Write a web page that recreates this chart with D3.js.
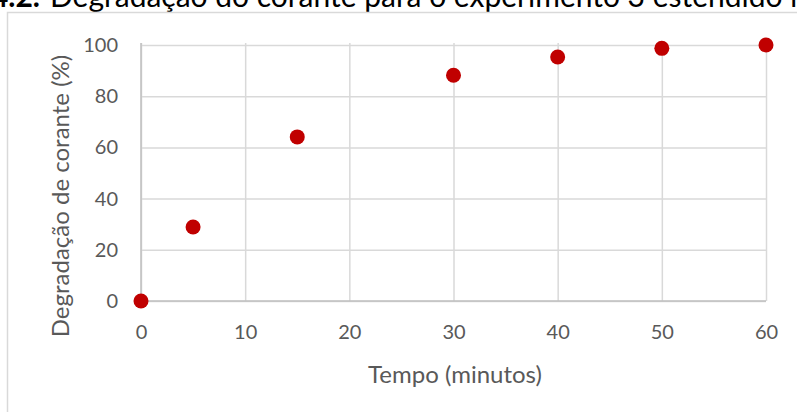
<!DOCTYPE html>
<html>
<head>
<meta charset="utf-8">
<script src="https://cdn.jsdelivr.net/npm/d3@7"></script>
<style>
  html, body { margin: 0; padding: 0; background: #fff; overflow: hidden; }
  svg { display: block; }
  text { font-family: Lato, "Open Sans", sans-serif; }
</style>
</head>
<body>
<svg id="chart" width="797" height="412"></svg>
<script>
// Dye degradation over time (experiment 3, extended)
const tempo = [0, 5, 15, 30, 40, 50, 60];          // minutes
const degradacao = [0, 28.9, 64.1, 88.2, 95.3, 98.7, 100]; // %
const xTicks = [0, 10, 20, 30, 40, 50, 60];
const yTicks = [0, 20, 40, 60, 80, 100];

const captionBold = "Figura 4.2.";
const captionText = "Degradação do corante para o experimento 3 estendido no tempo";
const xTitle = "Tempo (minutos)";
const yTitle = "Degradação de corante (%)";

const svg = d3.select("#chart");
const W = 797, H = 412;

const plot = { left: 141, right: 766, top: 45, bottom: 301 };

const x = d3.scaleLinear().domain([0, 60]).range([plot.left, plot.right]);
const y = d3.scaleLinear().domain([0, 100]).range([plot.bottom, plot.top]);

const textColor = "#595959";
const gridColor = "#d9d9d9";
const axisColor = "#bfbfbf";
const pointColor = "#c00000";

// caption above the chart frame
svg.append("text")
  .attr("x", 40).attr("y", 7)
  .attr("text-anchor", "end")
  .attr("font-size", 30)
  .attr("font-weight", "bold")
  .attr("fill", "#000")
  .text(captionBold);
svg.append("text")
  .attr("x", 50).attr("y", 7)
  .attr("font-size", 30)
  .attr("fill", "#000")
  .text(captionText);

// chart frame
svg.append("rect")
  .attr("x", 7.5).attr("y", 12.5)
  .attr("width", W + 20).attr("height", H + 20)
  .attr("fill", "#fff")
  .attr("stroke", gridColor)
  .attr("stroke-width", 1.5);

// horizontal gridlines
svg.append("g")
  .attr("transform", `translate(${plot.left},0)`)
  .call(d3.axisLeft(y).tickValues(yTicks).tickSize(-(plot.right - plot.left)).tickFormat(""))
  .call(g => g.select(".domain").remove())
  .call(g => g.selectAll("line").attr("stroke", gridColor).attr("stroke-width", 1.5));

// vertical gridlines
svg.append("g")
  .attr("transform", `translate(0,${plot.bottom})`)
  .call(d3.axisBottom(x).tickValues(xTicks).tickSize(-(plot.bottom - plot.top) - 2).tickFormat(""))
  .call(g => g.select(".domain").remove())
  .call(g => g.selectAll("line").attr("stroke", gridColor).attr("stroke-width", 1.5));

// axis lines
svg.append("line")
  .attr("x1", x(0)).attr("x2", x(0))
  .attr("y1", plot.top - 2).attr("y2", plot.bottom)
  .attr("stroke", axisColor).attr("stroke-width", 1.5);
svg.append("line")
  .attr("x1", x(0)).attr("x2", x(60))
  .attr("y1", y(0)).attr("y2", y(0))
  .attr("stroke", axisColor).attr("stroke-width", 1.5);

// tick labels
svg.append("g")
  .attr("transform", `translate(${plot.left},0)`)
  .call(d3.axisLeft(y).tickValues(yTicks).tickSize(0).tickPadding(23))
  .call(g => g.select(".domain").remove())
  .call(g => g.selectAll("text")
    .attr("font-family", "Lato, sans-serif")
    .attr("font-size", 20)
    .attr("fill", textColor));

svg.append("g")
  .attr("transform", `translate(0,${plot.bottom})`)
  .call(d3.axisBottom(x).tickValues(xTicks).tickSize(0).tickPadding(24))
  .call(g => g.select(".domain").remove())
  .call(g => g.selectAll("text")
    .attr("font-family", "Lato, sans-serif")
    .attr("font-size", 20)
    .attr("fill", textColor));

// axis titles
svg.append("text")
  .attr("x", 455)
  .attr("y", 383)
  .attr("text-anchor", "middle")
  .attr("font-size", 24)
  .attr("fill", textColor)
  .text(xTitle);

svg.append("text")
  .attr("transform", `translate(69,196) rotate(-90)`)
  .attr("text-anchor", "middle")
  .attr("font-size", 24)
  .attr("fill", textColor)
  .text(yTitle);

// data points
svg.append("g")
  .selectAll("circle")
  .data(tempo.map((t, i) => ({ t, v: degradacao[i] })))
  .join("circle")
  .attr("cx", d => x(d.t))
  .attr("cy", d => y(d.v))
  .attr("r", 7.5)
  .attr("fill", pointColor);
</script>
</body>
</html>
